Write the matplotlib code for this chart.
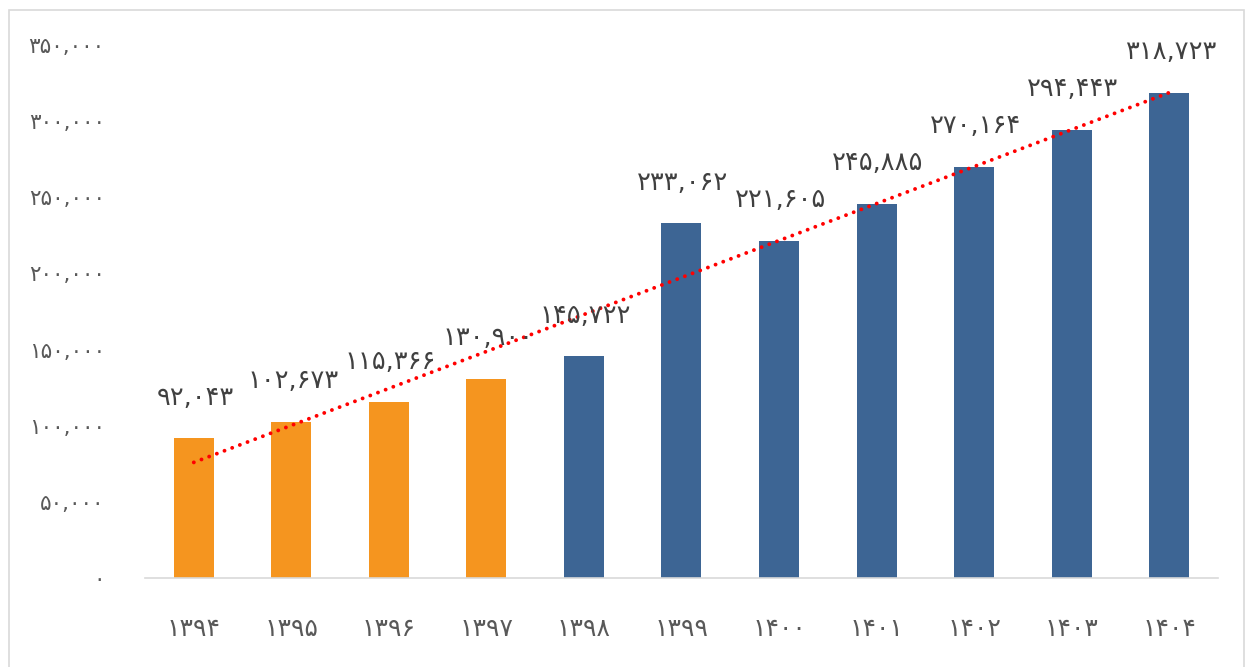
"""
Balkendiagramm mit persischen Ziffern und linearer Trendlinie
"""

import numpy as np
import matplotlib
matplotlib.use("Agg")
import matplotlib.pyplot as plt
from matplotlib.patches import Rectangle

# Daten
jahre = ['1394', '1395', '1396', '1397', '1398', '1399',
         '1400', '1401', '1402', '1403', '1404']
werte = [92043, 102673, 115366, 130900, 145722, 233062,
         221605, 245885, 270164, 294443, 318723]
farben = ['#F5951F'] * 4 + ['#3D6594'] * 7
y_ticks = [0, 50000, 100000, 150000, 200000, 250000, 300000, 350000]

FA_DIGITS = str.maketrans('0123456789', '۰۱۲۳۴۵۶۷۸۹')


def fa(text):
    """Wandelt lateinische Ziffern in persische Ziffern um."""
    return str(text).translate(FA_DIGITS)


plt.rcParams['font.family'] = ['DejaVu Sans']

fig = plt.figure(figsize=(12.47, 6.67), dpi=100)
ax = fig.add_axes([0.1163, 0.1334, 0.8604, 0.7991])

x = np.arange(len(jahre))
ax.bar(x, werte, width=0.41, color=farben, zorder=2)

# Lineare Trendlinie (gepunktet)
m, b = np.polyfit(x, werte, 1)
ax.plot(x, m * x + b, color='red', linestyle=(0, (0.01, 2.1)),
        linewidth=2.8, dash_capstyle='round', zorder=3)

# Datenbeschriftungen
for xi, wert in zip(x, werte):
    ax.annotate(fa(f"{wert:,}"), (xi, wert), xytext=(1, 29),
                textcoords='offset points', ha='center', va='center',
                fontsize=18.5, color='#404040', zorder=4)

ax.set_xlim(-0.5, len(jahre) - 0.5)
ax.set_ylim(0, 350000)
ax.set_xticks(x)
ax.set_xticklabels([fa(j) for j in jahre], fontsize=18, color='#595959')
ax.set_yticks(y_ticks)
ax.set_yticklabels([fa(f"{t:,}") for t in y_ticks], fontsize=15.5, color='#595959')
ax.tick_params(axis='x', length=0, pad=28)
ax.tick_params(axis='y', length=0, pad=29)

for s in ['top', 'right', 'left']:
    ax.spines[s].set_visible(False)
ax.spines['bottom'].set_color('#D9D9D9')
ax.spines['bottom'].set_linewidth(1.2)

# Rahmen um das Diagramm
fig.patches.append(Rectangle((9 / 1247, -0.02), 1235 / 1247, 1 - 10 / 667 + 0.02,
                             transform=fig.transFigure, fill=False,
                             edgecolor='#D9D9D9', linewidth=1.2))

fig.savefig('out.png', dpi=100)
